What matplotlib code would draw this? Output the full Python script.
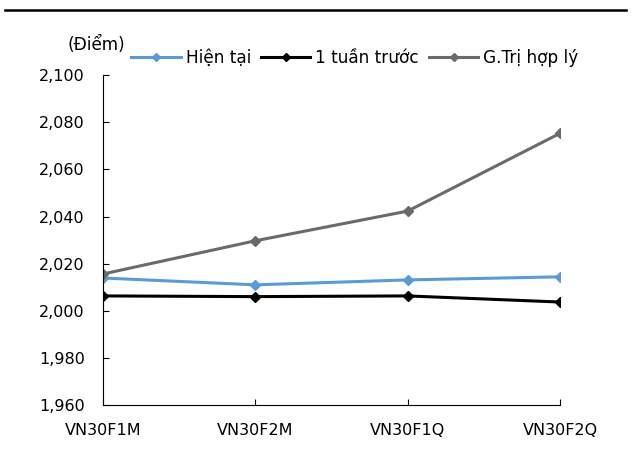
import matplotlib.pyplot as plt
from matplotlib.lines import Line2D
from matplotlib.ticker import FuncFormatter

plt.rcParams['font.family'] = ['DejaVu Sans']

categories = ['VN30F1M', 'VN30F2M', 'VN30F1Q', 'VN30F2Q']
hien_tai = [2013.9, 2011.0, 2013.1, 2014.4]
tuan_truoc = [2006.3, 2006.0, 2006.3, 2003.7]
gia_tri_hop_ly = [2015.6, 2029.7, 2042.3, 2075.3]

fig = plt.figure(figsize=(6.32, 4.5), dpi=100)
ax = fig.add_axes([0.163, 0.1, 0.723, 0.733])

x = list(range(len(categories)))
ax.plot(x, hien_tai, color='#5b9bd5', lw=2.2, marker='D', ms=5.5, label='Hiện tại')
ax.plot(x, tuan_truoc, color='black', lw=2.2, marker='D', ms=5.5, label='1 tuần trước')
ax.plot(x, gia_tri_hop_ly, color='#6a6a6a', lw=2.2, marker='D', ms=5.5, label='G.Trị hợp lý')

ax.set_xlim(0, 3)
ax.set_ylim(1960, 2100)
ax.set_yticks(range(1960, 2101, 20))
ax.yaxis.set_major_formatter(FuncFormatter(lambda v, p: '{:,.0f}'.format(v)))
ax.set_xticks(x)
ax.set_xticklabels(categories)
ax.spines['top'].set_visible(False)
ax.spines['right'].set_visible(False)
ax.tick_params(direction='in', length=4.5, labelsize=11.5, colors='black')
ax.tick_params(axis='x', pad=13)
ax.tick_params(axis='y', pad=13)

fig.text(0.107, 0.9, '(Điểm)', fontsize=12.2, va='center')
fig.legend(loc='center left', bbox_to_anchor=(0.208, 0.871), ncol=3, frameon=False,
           fontsize=12.2, handlelength=2.9, handletextpad=0.3, columnspacing=0.6,
           borderaxespad=0, borderpad=0, markerscale=0.8)

fig.add_artist(Line2D([0.008, 0.99], [0.978, 0.978], color='black', lw=1.8))

fig.savefig('out.png', dpi=100)
